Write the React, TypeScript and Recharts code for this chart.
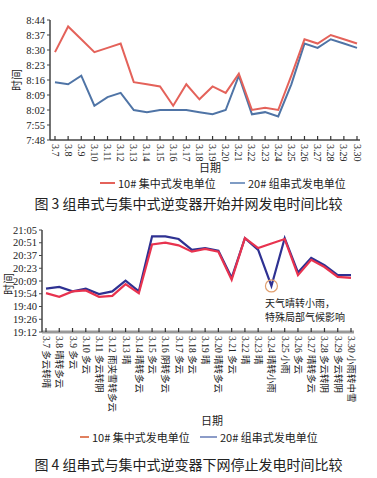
import { Line, LineChart, ReferenceDot, XAxis, YAxis } from 'recharts'

const dates = ['3.7', '3.8', '3.9', '3.10', '3.11', '3.12', '3.13', '3.14', '3.15', '3.16', '3.17', '3.18',
  '3.19', '3.20', '3.21', '3.22', '3.23', '3.24', '3.25', '3.26', '3.27', '3.28', '3.29', '3.30']

const weather = ['多云转晴', '晴转多云', '多云', '多云', '多云转阴', '雨夹雪转多云', '晴', '晴转多云', '多云', '阴转多云',
  '多云', '多云', '晴', '晴转多云', '多云', '晴', '晴', '晴转小雨', '小雨', '多云', '晴转多云', '多云转阴', '多云转阴', '小雨转中雪']

// fig 3: start time
const start10 = ['8:29', '8:41', '8:35', '8:29', '8:31', '8:33', '8:15', '8:14', '8:13', '8:04', '8:14', '8:07',
  '8:13', '8:10', '8:19', '8:02', '8:03', '8:02', '8:18', '8:35', '8:33', '8:37', '8:35', '8:33']
const start20 = ['8:15', '8:14', '8:18', '8:04', '8:08', '8:10', '8:02', '8:01', '8:02', '8:02', '8:02', '8:01',
  '8:00', '8:02', '8:18', '8:00', '8:01', '7:59', '8:14', '8:33', '8:31', '8:35', '8:33', '8:31']
const startTicks = ['7:48', '7:55', '8:02', '8:09', '8:16', '8:23', '8:30', '8:37', '8:44']

// fig 4: stop time
const stop10 = ['19:55', '19:51', '19:57', '19:58', '19:51', '19:52', '20:05', '19:55', '20:49', '20:51', '20:48', '20:41',
  '20:44', '20:41', '20:10', '20:56', '20:45', '20:50', '20:55', '20:15', '20:32', '20:24', '20:13', '20:12']
const stop20 = ['20:00', '20:02', '19:57', '20:00', '19:54', '19:57', '20:09', '19:57', '20:58', '20:58', '20:55', '20:43',
  '20:45', '20:42', '20:12', '20:56', '20:43', '20:03', '20:56', '20:18', '20:34', '20:26', '20:15', '20:15']
const stopTicks = ['19:12', '19:26', '19:40', '19:54', '20:09', '20:23', '20:37', '20:51', '21:05']

const note = ['天气晴转小雨，', '特殊局部气候影响']

const toMin = (s: string) => {
  const [h, m] = s.split(':').map(Number)
  return h * 60 + m
}

const startData = dates.map((d, i) => ({ date: d, a: toMin(start10[i]), b: toMin(start20[i]) }))
const stopData = dates.map((d, i) => ({ date: d, label: d + ' ' + weather[i], a: toMin(stop10[i]), b: toMin(stop20[i]) }))

const evenTicks = (labels: string[]) => {
  const lo = toMin(labels[0])
  const hi = toMin(labels[labels.length - 1])
  return labels.map((_, i) => lo + (i * (hi - lo)) / (labels.length - 1))
}
const startVals = evenTicks(startTicks)
const stopVals = evenTicks(stopTicks)

const serif = '"Liberation Serif", "Times New Roman", serif'
const cjk = '"Noto Sans CJK SC", sans-serif'

const DateTick = (props: any) => {
  const { x, y, payload, index, labels, size } = props
  const txt = labels ? labels[index] : payload.value
  return (
    <g>
      <line x1={x} y1={y - 4} x2={x} y2={y} stroke="#333" strokeWidth={1.2} />
      <text
        transform={`translate(${x},${y + 4}) rotate(90)`}
        dominantBaseline="central"
        fontSize={size}
        fontFamily={`${serif}, ${cjk}`}
        fill="#222"
      >
        {txt}
      </text>
    </g>
  )
}

const abs = (left: number, top: number, extra: any = {}) => ({ position: 'absolute' as const, left, top, ...extra })

const LegendItem = ({ x, y, w, color, text }: any) => (
  <div style={abs(x, y - 8, { display: 'flex', alignItems: 'center', fontFamily: cjk, fontSize: 11, lineHeight: '16px', color: '#222', whiteSpace: 'nowrap' })}>
    <span style={{ display: 'inline-block', width: w, height: 2, background: color, marginRight: 3 }} />
    {text}
  </div>
)

const VLabel = ({ x, y }: any) => (
  <div style={abs(x, y, { transform: 'translate(-50%,-50%) rotate(-90deg)', fontFamily: cjk, fontSize: 11, lineHeight: '12px', color: '#222', whiteSpace: 'nowrap' })}>
    时间
  </div>
)

export default function App() {
  const minFmt = (labels: string[]) => (_v: number, i: number) => labels[i]
  return (
    <div style={abs(0, 0, { width: 377, height: 478, background: '#fff', overflow: 'hidden' })}>
      <div style={abs(0, 0)}>
        <LineChart width={377} height={215} data={startData} margin={{ top: 20, right: 17, bottom: 0, left: 0 }}>
          <XAxis
            dataKey="date"
            height={75}
            padding={{ left: 5, right: 3 }}
            tickSize={0}
            tickMargin={0}
            interval={0}
            axisLine={{ stroke: '#444', strokeWidth: 1.5 }}
            tick={<DateTick size={10} />}
          />
          <YAxis
            width={50}
            domain={[startVals[0], startVals[startVals.length - 1]]}
            ticks={startVals}
            tickFormatter={minFmt(startTicks)}
            interval={0}
            tickSize={3}
            axisLine={{ stroke: '#444', strokeWidth: 1.5 }}
            tickLine={{ stroke: '#444' }}
            tick={{ fontSize: 10.5, fontFamily: serif, fill: '#222' }}
          />
          <Line dataKey="b" stroke="#4f74a6" strokeWidth={2} dot={false} isAnimationActive={false} />
          <Line dataKey="a" stroke="#e4625a" strokeWidth={2} dot={false} isAnimationActive={false} />
        </LineChart>
      </div>
      <div style={abs(0, 215)}>
        <LineChart width={377} height={200} data={stopData} margin={{ top: 15, right: 23, bottom: 0, left: 0 }}>
          <XAxis
            dataKey="date"
            height={83}
            padding={{ left: 4, right: 3 }}
            tickSize={0}
            tickMargin={0}
            interval={0}
            axisLine={{ stroke: '#999', strokeWidth: 3 }}
            tick={<DateTick size={9.5} labels={stopData.map((d) => d.label)} />}
          />
          <YAxis
            width={42}
            domain={[stopVals[0], stopVals[stopVals.length - 1]]}
            ticks={stopVals}
            tickFormatter={minFmt(stopTicks)}
            interval={0}
            tickSize={3}
            axisLine={{ stroke: '#444', strokeWidth: 1.5 }}
            tickLine={{ stroke: '#444' }}
            tick={{ fontSize: 10.5, fontFamily: serif, fill: '#222' }}
          />
          <Line dataKey="b" stroke="#2e3192" strokeWidth={2.2} dot={false} isAnimationActive={false} />
          <Line dataKey="a" stroke="#e8334f" strokeWidth={2.2} dot={false} isAnimationActive={false} />
          <ReferenceDot x="3.24" y={toMin(stop20[17])} r={6} fill="none" stroke="#e0a070" strokeWidth={1.2} />
        </LineChart>
      </div>

      <VLabel x={16} y={80} />
      <VLabel x={8} y={284} />

      <div style={abs(210, 167, { transform: 'translate(-50%,-50%)', fontFamily: cjk, fontSize: 11, lineHeight: '12px', color: '#222' })}>日期</div>
      <div style={abs(212, 420, { transform: 'translate(-50%,-50%)', fontFamily: cjk, fontSize: 11, lineHeight: '12px', color: '#222' })}>日期</div>

      <LegendItem x={100} y={183} w={15} color="#e4625a" text="10# 集中式发电单位" />
      <LegendItem x={230} y={183} w={15} color="#7f9cc4" text="20# 组串式发电单位" />
      <LegendItem x={80} y={437} w={9} color="#e0805f" text="10# 集中式发电单位" />
      <LegendItem x={200} y={437} w={17} color="#8c9cc8" text="20# 组串式发电单位" />

      <div style={abs(0, 193, { width: 377, textAlign: 'center', fontFamily: cjk, fontSize: 14, color: '#222' })}>
        图 3 组串式与集中式逆变器开始并网发电时间比较
      </div>
      <div style={abs(0, 454, { width: 377, textAlign: 'center', fontFamily: cjk, fontSize: 14, color: '#222' })}>
        图 4 组串式与集中式逆变器下网停止发电时间比较
      </div>

      {note.map((t, i) => (
        <div key={t} style={abs(265, 297 + i * 14, { fontFamily: cjk, fontSize: 10, lineHeight: '12px', color: '#222', whiteSpace: 'nowrap' })}>
          {t}
        </div>
      ))}
    </div>
  )
}
